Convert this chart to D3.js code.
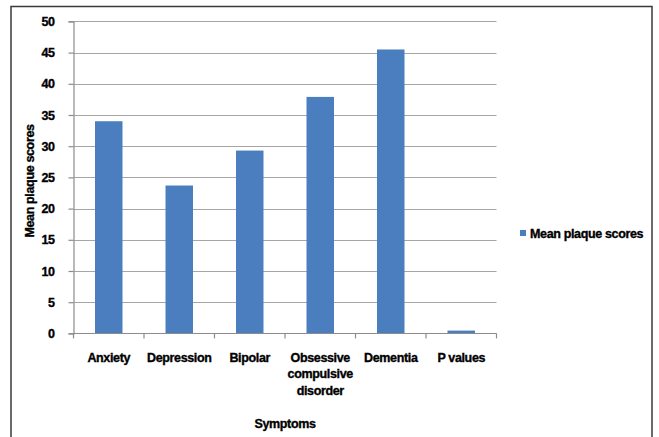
<!DOCTYPE html>
<html>
<head>
<meta charset="utf-8">
<script src="https://cdn.jsdelivr.net/npm/d3@7"></script>
<style>
  html, body { margin: 0; padding: 0; background: #fff; }
  svg { display: block; }
  text { font-family: "Liberation Sans", Arial, sans-serif; font-weight: bold; fill: #000; stroke: #000; stroke-width: 0.35px; }
</style>
</head>
<body>
<svg id="chart" width="659" height="437"></svg>
<script>
// Mean plaque score for each symptom group
const categories = ["Anxiety", "Depression", "Bipolar", "Obsessive compulsive disorder", "Dementia", "P values"];
const categoryLines = [["Anxiety"], ["Depression"], ["Bipolar"], ["Obsessive", "compulsive", "disorder"], ["Dementia"], ["P values"]];
const meanPlaqueScores = [34.0, 23.7, 29.3, 37.9, 45.5, 0.45];
const yTicks = [0, 5, 10, 15, 20, 25, 30, 35, 40, 45, 50];
const seriesName = "Mean plaque scores";
const xTitle = "Symptoms";
const yTitle = "Mean plaque scores";

const svg = d3.select("#chart");
const plot = { left: 73.5, right: 496.5, top: 21.4, bottom: 333.4 };
const fontSize = 12.5;
const tracking = -0.35;

// outer frame (open at the bottom edge of the view)
svg.append("path")
  .attr("d", `M11,440 V6.5 H652 V440`)
  .attr("fill", "none")
  .attr("stroke", "#3a3a3a")
  .attr("stroke-width", 1.5);

const x = d3.scaleBand()
  .domain(categories)
  .range([plot.left, plot.right])
  .paddingInner(0.61)
  .paddingOuter(0.305);

const y = d3.scaleLinear()
  .domain([0, 50])
  .range([plot.bottom, plot.top]);

// horizontal gridlines
svg.append("g")
  .selectAll("line")
  .data(yTicks.filter(d => d > 0))
  .join("line")
  .attr("x1", plot.left)
  .attr("x2", plot.right)
  .attr("y1", d => Math.round(y(d)) + 0.5)
  .attr("y2", d => Math.round(y(d)) + 0.5)
  .attr("stroke", "#a6a6a6")
  .attr("stroke-width", 1.2);

// bars
svg.append("g")
  .selectAll("rect")
  .data(categories)
  .join("rect")
  .attr("x", d => x(d))
  .attr("width", x.bandwidth())
  .attr("y", (d, i) => y(meanPlaqueScores[i]))
  .attr("height", (d, i) => y(0) - y(meanPlaqueScores[i]))
  .attr("fill", "#4a7ebf");

// y axis
const yAxis = svg.append("g")
  .attr("transform", `translate(${plot.left},0)`)
  .call(d3.axisLeft(y).tickValues(yTicks).tickSize(5).tickPadding(14).tickFormat(d3.format("d")));
yAxis.select(".domain").attr("stroke", "#8c8c8c").attr("stroke-width", 1.2);
yAxis.selectAll(".tick line").attr("stroke", "#8c8c8c").attr("stroke-width", 1.2);
yAxis.selectAll(".tick text")
  .attr("font-size", fontSize)
  .attr("font-family", "\"Liberation Sans\", Arial, sans-serif")
  .attr("font-weight", "bold")
  .attr("letter-spacing", -0.5)
  .attr("fill", "#000");

// x axis with ticks at band boundaries
const xBase = svg.append("g");
xBase.append("line")
  .attr("x1", plot.left).attr("x2", plot.right)
  .attr("y1", Math.round(y(0)) + 0.5).attr("y2", Math.round(y(0)) + 0.5)
  .attr("stroke", "#8c8c8c").attr("stroke-width", 1.2);
const step = x.step();
const boundaries = d3.range(categories.length + 1).map(i => plot.left + i * step);
xBase.selectAll("line.tk")
  .data(boundaries)
  .join("line")
  .attr("class", "tk")
  .attr("x1", d => d).attr("x2", d => d)
  .attr("y1", y(0)).attr("y2", y(0) + 5)
  .attr("stroke", "#8c8c8c").attr("stroke-width", 1.2);

// category labels
const labels = svg.append("g");
categories.forEach((c, i) => {
  const t = labels.append("text")
    .attr("x", x(c) + x.bandwidth() / 2)
    .attr("y", 361.5)
    .attr("text-anchor", "middle")
    .attr("font-size", fontSize)
    .attr("letter-spacing", tracking);
  categoryLines[i].forEach((line, j) => {
    t.append("tspan")
      .attr("x", x(c) + x.bandwidth() / 2)
      .attr("dy", j === 0 ? 0 : 16.7)
      .text(line);
  });
});

// axis titles
svg.append("text")
  .attr("x", (plot.left + plot.right) / 2)
  .attr("y", 427.5)
  .attr("text-anchor", "middle")
  .attr("font-size", fontSize)
  .attr("letter-spacing", tracking)
  .text(xTitle);

svg.append("text")
  .attr("transform", `translate(33.5,181) rotate(-90)`)
  .attr("text-anchor", "middle")
  .attr("font-size", fontSize)
  .attr("letter-spacing", tracking)
  .text(yTitle);

// legend
const legend = svg.append("g").attr("transform", "translate(520,230)");
legend.append("rect").attr("width", 6).attr("height", 6).attr("fill", "#4a7ebf");
legend.append("text")
  .attr("x", 10)
  .attr("y", 8)
  .attr("font-size", fontSize)
  .attr("letter-spacing", tracking)
  .text(seriesName);
</script>
</body>
</html>
